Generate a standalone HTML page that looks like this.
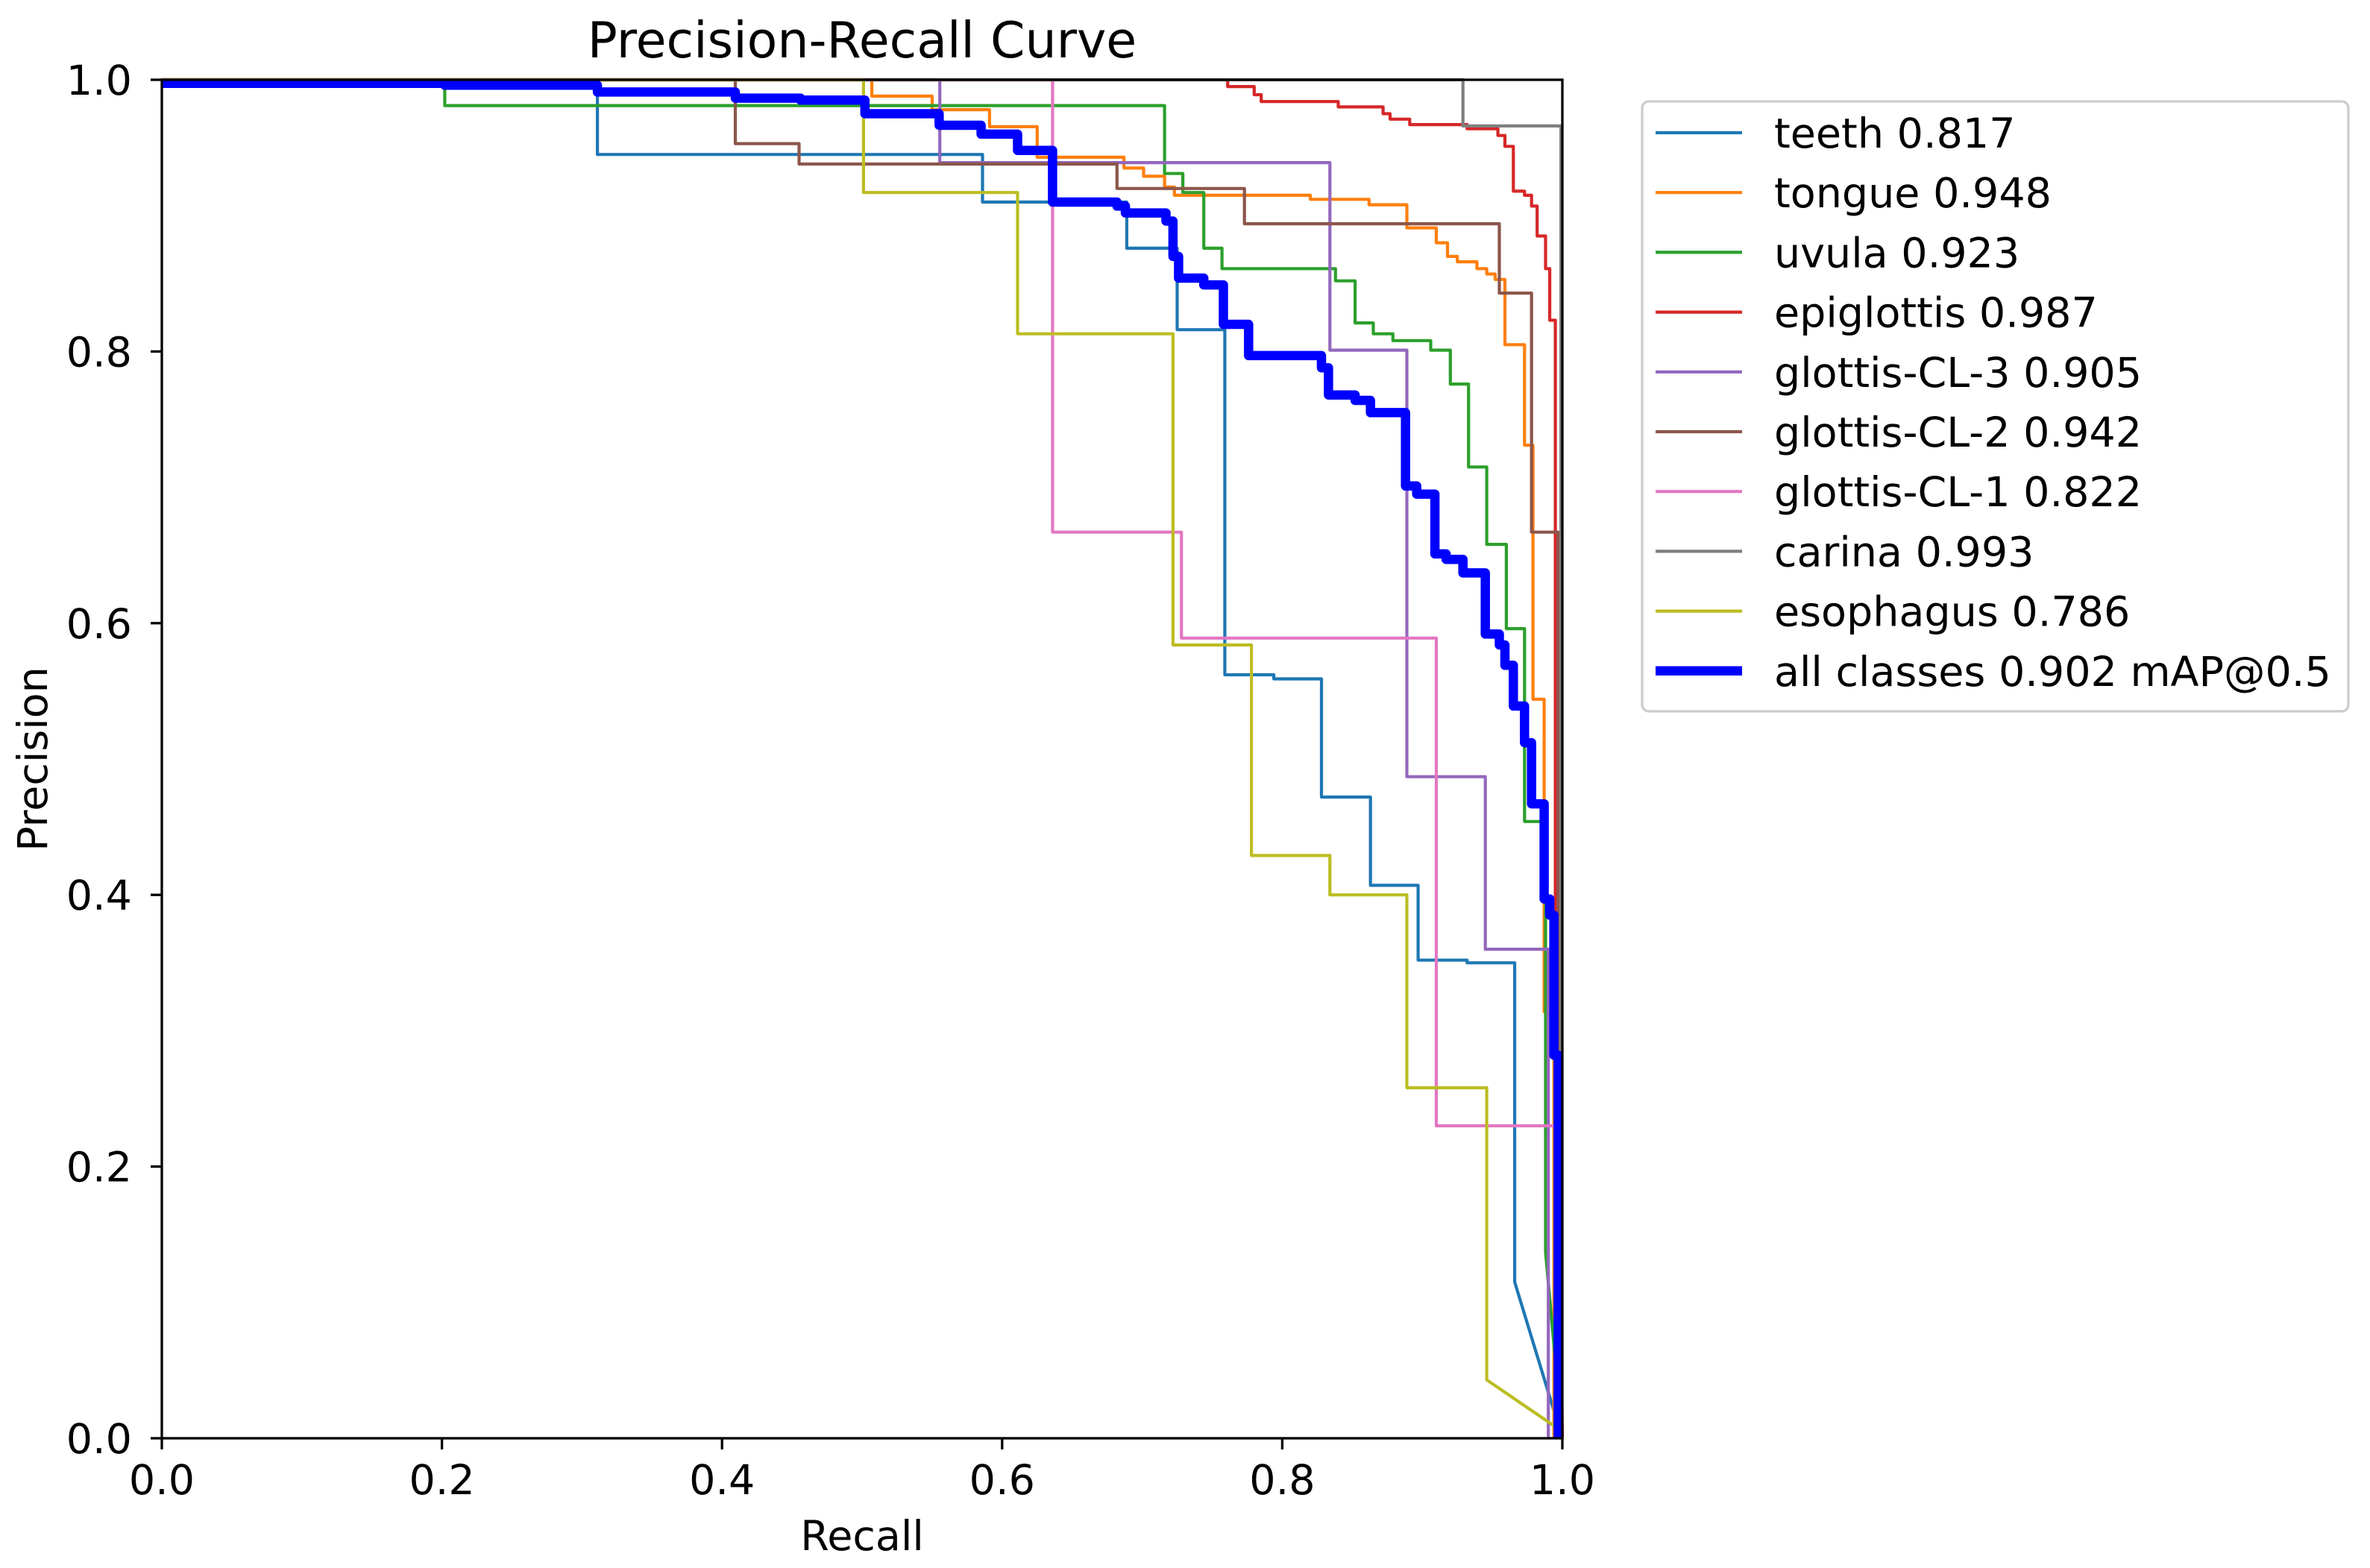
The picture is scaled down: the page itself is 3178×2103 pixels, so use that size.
<!DOCTYPE html>
<html><head><meta charset="utf-8"><style>
html,body{margin:0;padding:0;background:#fff;}
svg{display:block;font-family:"DejaVu Sans","Liberation Sans",sans-serif;}
</style></head><body>
<svg id="chart" width="3178" height="2103" viewBox="0 0 3178 2103" xmlns="http://www.w3.org/2000/svg">
<rect width="3178" height="2103" fill="#fff"/>
<text x="1156" y="77" font-size="66.5" text-anchor="middle">Precision-Recall Curve</text>
<g id="lines"></g>
<g id="axes"></g>
<text x="1156" y="2079" font-size="55.5" text-anchor="middle">Recall</text>
<text x="0" y="0" font-size="55.5" text-anchor="middle" transform="translate(63,1018) rotate(-90)">Precision</text>
<g id="legend"></g>
</svg>
<script>
const classNames = ["teeth","tongue","uvula","epiglottis","glottis-CL-3","glottis-CL-2","glottis-CL-1","carina","esophagus","all classes"];
const apValues = ["0.817","0.948","0.923","0.987","0.905","0.942","0.822","0.993","0.786","0.902 mAP@0.5"];
const xTicks = [0,0.2,0.4,0.6,0.8,1.0];
const xTickLabels = ["0.0","0.2","0.4","0.6","0.8","1.0"];
const yTicks = [0,0.2,0.4,0.6,0.8,1.0];
const yTickLabels = ["0.0","0.2","0.4","0.6","0.8","1.0"];

const teethR = [0,0.311,0.586,0.689,0.725,0.759,0.794,0.828,0.863,0.897,0.932,0.966];
const teethP = [1,0.945,0.910,0.876,0.816,0.562,0.559,0.472,0.407,0.352,0.350,0.115];
const teethTailR = [1.0]; const teethTailP = [0.0];
const tongueR = [0,0.507,0.55,0.591,0.625,0.687,0.701,0.716,0.723,0.820,0.862,0.889,0.910,0.918,0.925,0.939,0.946,0.952,0.959,0.973,0.979,0.987,0.994];
const tongueP = [1,0.988,0.978,0.9655,0.943,0.935,0.929,0.921,0.915,0.912,0.908,0.891,0.880,0.870,0.866,0.861,0.857,0.853,0.805,0.731,0.544,0.314,0.0];
const uvulaR = [0,0.202,0.716,0.729,0.744,0.757,0.838,0.852,0.865,0.879,0.906,0.920,0.933,0.946,0.960,0.973,0.988];
const uvulaP = [1,0.981,0.931,0.917,0.876,0.861,0.852,0.821,0.813,0.808,0.801,0.776,0.715,0.658,0.596,0.454,0.137];
const uvulaTailR = [1.0]; const uvulaTailP = [0.0];
const epiR = [0,0.761,0.780,0.785,0.840,0.872,0.877,0.891,0.932,0.954,0.959,0.965,0.973,0.978,0.982,0.988,0.991,0.995];
const epiP = [1,0.995,0.989,0.984,0.980,0.975,0.971,0.967,0.964,0.959,0.951,0.918,0.915,0.907,0.885,0.861,0.823,0.40];
const epiTailR = [1.0]; const epiTailP = [0.0];
const cl3R = [0,0.5555,0.834,0.889,0.945,0.990];
const cl3P = [1,0.939,0.801,0.487,0.360,0.0];
const cl2R = [0,0.4095,0.455,0.682,0.773,0.955,0.978,0.997];
const cl2P = [1,0.953,0.938,0.920,0.894,0.843,0.667,0.0];
const cl1R = [0,0.636,0.728,0.910,0.996];
const cl1P = [1,0.667,0.589,0.230,0.0];
const carinaR = [0,0.929,0.999];
const carinaP = [1,0.966,0.0];
const esoR = [0,0.501,0.611,0.722,0.778,0.834,0.889,0.946];
const esoP = [1,0.917,0.813,0.584,0.429,0.400,0.258,0.043];
const esoTailR = [1.0]; const esoTailP = [0.005];
const allR = [0,0.202,0.311,0.4095,0.456,0.502,0.555,0.585,0.611,0.636,0.682,0.688,0.717,0.722,0.726,0.744,0.758,0.776,0.828,0.833,0.852,0.863,0.888,0.896,0.909,0.917,0.929,0.945,0.955,0.959,0.965,0.973,0.978,0.987,0.991,0.994,0.997];
const allP = [0.9974,0.996,0.991,0.9865,0.985,0.975,0.9665,0.960,0.948,0.910,0.907,0.902,0.896,0.870,0.854,0.849,0.820,0.797,0.788,0.768,0.764,0.755,0.701,0.695,0.651,0.647,0.637,0.592,0.584,0.569,0.539,0.512,0.467,0.397,0.385,0.282,0.0];

const X0=217,X1=2095,Y0=1929,Y1=107;
function xs(v){return X0+v*(X1-X0);}
function ys(v){return Y0-v*(Y0-Y1);}
const NS="http://www.w3.org/2000/svg";
function stepPath(R,P,TR,TP){
  let d="M"+xs(R[0]).toFixed(1)+","+ys(P[0]).toFixed(1);
  for(let i=1;i<R.length;i++){
    d+=" L"+xs(R[i]).toFixed(1)+","+ys(P[i-1]).toFixed(1)+" L"+xs(R[i]).toFixed(1)+","+ys(P[i]).toFixed(1);
  }
  if(TR){for(let i=0;i<TR.length;i++){d+=" L"+xs(TR[i]).toFixed(1)+","+ys(TP[i]).toFixed(1);}}
  return d;
}
const series=[
 {R:teethR,P:teethP,TR:teethTailR,TP:teethTailP,c:"#1f77b4",w:4.2,n:"teeth-curve"},
 {R:tongueR,P:tongueP,c:"#ff7f0e",w:4.2,n:"tongue-curve"},
 {R:uvulaR,P:uvulaP,TR:uvulaTailR,TP:uvulaTailP,c:"#2ca02c",w:4.2,n:"uvula-curve"},
 {R:epiR,P:epiP,TR:epiTailR,TP:epiTailP,c:"#d62728",w:4.2,n:"epiglottis-curve"},
 {R:cl3R,P:cl3P,c:"#9467bd",w:4.2,n:"glottis-cl3-curve"},
 {R:cl2R,P:cl2P,c:"#8c564b",w:4.2,n:"glottis-cl2-curve"},
 {R:cl1R,P:cl1P,c:"#e377c2",w:4.2,n:"glottis-cl1-curve"},
 {R:carinaR,P:carinaP,c:"#7f7f7f",w:4.2,n:"carina-curve"},
 {R:esoR,P:esoP,TR:esoTailR,TP:esoTailP,c:"#bcbd22",w:4.2,n:"esophagus-curve"},
 {R:allR,P:allP,c:"#0000ff",w:12.5,n:"all-classes-curve"}
];
const lines=document.getElementById("lines");
series.forEach(s=>{
  const p=document.createElementNS(NS,"path");
  p.setAttribute("d",stepPath(s.R,s.P,s.TR,s.TP));
  p.setAttribute("fill","none");
  p.setAttribute("stroke",s.c);
  p.setAttribute("stroke-width",s.w);
  p.setAttribute("stroke-linejoin","round");
  
  
  lines.appendChild(p);
});
const axes=document.getElementById("axes");
const frame=document.createElementNS(NS,"rect");
frame.setAttribute("x",X0);frame.setAttribute("y",Y1);
frame.setAttribute("width",X1-X0);frame.setAttribute("height",Y0-Y1);
frame.setAttribute("fill","none");frame.setAttribute("stroke","#000");frame.setAttribute("stroke-width","3.3");


axes.appendChild(frame);
xTicks.forEach((v,i)=>{
  const l=document.createElementNS(NS,"line");
  l.setAttribute("x1",xs(v));l.setAttribute("x2",xs(v));l.setAttribute("y1",Y0);l.setAttribute("y2",Y0+15);
  l.setAttribute("stroke","#000");l.setAttribute("stroke-width","3.3");
  
  
  axes.appendChild(l);
  const t=document.createElementNS(NS,"text");
  t.setAttribute("x",xs(v));t.setAttribute("y",2004);t.setAttribute("font-size","55.5");t.setAttribute("text-anchor","middle");
  t.textContent=xTickLabels[i];
  
  
  axes.appendChild(t);
});
yTicks.forEach((v,i)=>{
  const l=document.createElementNS(NS,"line");
  l.setAttribute("x1",X0-15);l.setAttribute("x2",X0);l.setAttribute("y1",ys(v));l.setAttribute("y2",ys(v));
  l.setAttribute("stroke","#000");l.setAttribute("stroke-width","3.3");
  
  
  axes.appendChild(l);
  const t=document.createElementNS(NS,"text");
  t.setAttribute("x",177);t.setAttribute("y",ys(v)+20);t.setAttribute("font-size","55.5");t.setAttribute("text-anchor","end");
  t.textContent=yTickLabels[i];
  
  
  axes.appendChild(t);
});
const legend=document.getElementById("legend");


const box=document.createElementNS(NS,"rect");
box.setAttribute("x",2202);box.setAttribute("y",136);box.setAttribute("width",947);box.setAttribute("height",818);
box.setAttribute("rx",9);box.setAttribute("fill","#fff");box.setAttribute("stroke","#cccccc");box.setAttribute("stroke-width","3.3");


legend.appendChild(box);
classNames.forEach((n,i)=>{
  const cy=178+i*80.2;
  const l=document.createElementNS(NS,"line");
  l.setAttribute("x1",2220);l.setAttribute("x2",2336);l.setAttribute("y1",cy);l.setAttribute("y2",cy);
  l.setAttribute("stroke",series[i].c);l.setAttribute("stroke-width",series[i].w);
  
  
  legend.appendChild(l);
  const t=document.createElementNS(NS,"text");
  t.setAttribute("x",2379);t.setAttribute("y",cy+20);t.setAttribute("font-size","55.5");
  t.textContent=n+" "+apValues[i];
  
  
  legend.appendChild(t);
});
</script>
</body></html>
